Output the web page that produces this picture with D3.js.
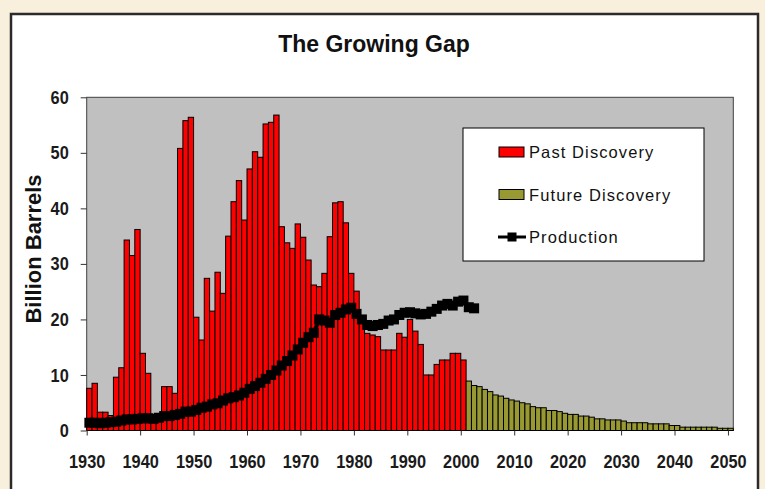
<html>
<head>
  <title>The Growing Gap</title>
  <meta charset="utf-8" />
  <script src="https://cdnjs.cloudflare.com/ajax/libs/d3/7.8.5/d3.min.js"></script>
  <style>
    body { margin: 0; background: #f8efdc; }
    .tick text { font-family: "Liberation Sans", Arial, sans-serif; font-weight: bold; font-size: 19px; fill: #1a1a1a; }
    .tick line { stroke: #333; }
    path.domain { stroke: none; }
  </style>
</head>
<body>
  <svg></svg>
  <script>
    // year categories and values (billion barrels)
    var years = d3.range(1930, 2051)
    var tickYears = [1930, 1940, 1950, 1960, 1970, 1980, 1990, 2000, 2010, 2020, 2030, 2040, 2050]
    var yTicks = [0, 10, 20, 30, 40, 50, 60]

    // 1930 - 2000
    var pastDiscovery = [
      7.6, 8.5, 3.3, 3.3, 2.7, 9.6, 11.3, 34.3, 31.5, 36.2,
      13.9, 10.3, 1.8, 2.2, 7.9, 7.9, 6.7, 50.8, 55.8, 56.4,
      20.4, 16.3, 27.4, 21.5, 28.5, 24.7, 35.0, 41.2, 45.0, 37.9,
      47.1, 50.2, 49.2, 55.2, 55.5, 56.8, 36.7, 33.8, 32.8, 37.2,
      34.8, 30.7, 26.2, 25.9, 28.3, 34.9, 41.0, 41.2, 37.4, 28.3,
      25.1, 19.5, 17.5, 17.2, 16.9, 14.5, 14.5, 14.5, 17.5, 16.8,
      20.0, 17.9, 15.5, 10.0, 10.0, 11.9, 12.7, 12.7, 13.9, 13.9,
      12.7
    ]
    // 2001 - 2050
    var futureDiscovery = [
      8.9, 8.1, 7.9, 7.4, 7.0, 6.4, 6.2, 5.8, 5.5, 5.3,
      5.0, 4.8, 4.3, 4.1, 4.1, 3.6, 3.6, 3.4, 3.1, 2.9,
      2.9, 2.6, 2.6, 2.4, 2.1, 2.1, 1.9, 1.9, 1.9, 1.7,
      1.4, 1.4, 1.4, 1.4, 1.2, 1.2, 1.2, 1.2, 0.9, 0.9,
      0.6, 0.6, 0.6, 0.6, 0.6, 0.6, 0.6, 0.4, 0.4, 0.4
    ]
    // 1930 - 2002
    var production = [
      1.4, 1.4, 1.3, 1.4, 1.5, 1.6, 1.8, 2.0, 2.0, 2.1,
      2.2, 2.2, 2.1, 2.3, 2.6, 2.6, 2.8, 3.0, 3.4, 3.4,
      3.7, 4.1, 4.3, 4.7, 4.9, 5.4, 5.8, 6.0, 6.3, 6.8,
      7.5, 8.0, 8.6, 9.3, 10.0, 10.8, 11.7, 12.5, 13.5, 14.6,
      15.8, 16.8, 17.6, 20.0, 19.8, 19.4, 20.8, 21.2, 21.8, 22.1,
      21.0, 20.0, 19.0, 18.8, 19.0, 19.2, 19.8, 20.0, 20.8, 21.2,
      21.3, 21.1, 20.9, 21.0, 21.4, 21.9, 22.5, 22.8, 22.5, 23.2,
      23.4, 22.2, 22.0
    ]

    var svg = d3.select("svg").attr("width", 765).attr("height", 489)

    // white panel with dark frame
    svg.append("rect")
      .attr("x", 11).attr("y", 14)
      .attr("width", 747).attr("height", 500)
      .style("fill", "#fff")
      .style("stroke", "#2b2b2b")
      .style("stroke-width", 2.5)

    var x = d3.scaleBand().domain(years).range([86.7, 733.3]).paddingInner(0).paddingOuter(0)
    var xTick = d3.scaleLinear().domain([1930, 2051]).range([86.7, 733.3])
    var y = d3.scaleLinear().domain([0, 60]).range([430.5, 97.3])

    svg.append("rect")
      .attr("x", x.range()[0]).attr("y", y(60))
      .attr("width", x.range()[1] - x.range()[0])
      .attr("height", y(0) - y(60))
      .style("fill", "#c0c0c0")
      .style("stroke", "#404040")
      .style("stroke-width", 1)

    var pastData = pastDiscovery.map((v, i) => ({ year: 1930 + i, v: v }))
    var futureData = futureDiscovery.map((v, i) => ({ year: 2001 + i, v: v }))
    var prodData = production.map((v, i) => ({ year: 1930 + i, v: v }))

    function drawBars(data, color, cls) {
      svg.append("g").selectAll("rect." + cls)
        .data(data)
        .enter()
        .append("rect")
          .attr("class", cls)
          .attr("x", d => x(d.year))
          .attr("width", x.bandwidth())
          .attr("y", d => y(d.v))
          .attr("height", d => y(0) - y(d.v))
          .style("fill", color)
          .style("stroke", "#000")
          .style("stroke-width", 1)
    }
    drawBars(pastData, "#ff0000", "past")
    drawBars(futureData, "#999933", "future")

    // production line with square markers
    var line = d3.line()
      .x(d => x(d.year) + x.bandwidth() / 2)
      .y(d => y(d.v))

    svg.append("path")
      .datum(prodData)
      .attr("d", line)
      .style("fill", "none")
      .style("stroke", "#000")
      .style("stroke-width", 4)

    svg.append("g").selectAll("rect.mark")
      .data(prodData)
      .enter()
      .append("rect")
        .attr("class", "mark")
        .attr("x", d => x(d.year) + x.bandwidth() / 2 - 5)
        .attr("y", d => y(d.v) - 5)
        .attr("width", 10).attr("height", 10)
        .style("fill", "#000")

    // axes (labels squeezed sideways to look like a narrow face)
    svg.append("g")
      .attr("transform", "translate(0," + y(0) + ")")
      .call(d3.axisBottom(xTick).tickValues(tickYears).tickFormat(d3.format("d")).tickSize(5).tickPadding(19))
      .selectAll(".tick text")
        .attr("transform", "scale(0.86,1)")

    svg.append("g")
      .attr("transform", "translate(" + x.range()[0] + ",0)")
      .call(d3.axisLeft(y).tickValues(yTicks).tickSize(6).tickPadding(12))
      .selectAll(".tick text")
        .attr("transform", "translate(-2.5,0) scale(0.86,1)")

    // titles
    svg.append("text")
      .attr("x", 374).attr("y", 52)
      .attr("text-anchor", "middle")
      .style("font-family", "Liberation Sans, Arial, sans-serif")
      .style("font-weight", "bold")
      .style("font-size", "23px")
      .style("fill", "#111")
      .text("The Growing Gap")

    svg.append("text")
      .attr("transform", "translate(41,249) rotate(-90)")
      .attr("text-anchor", "middle")
      .style("font-family", "Liberation Sans, Arial, sans-serif")
      .style("font-weight", "bold")
      .style("font-size", "22px")
      .style("fill", "#111")
      .text("Billion Barrels")

    // legend
    var legend = svg.append("g")
    legend.append("rect")
      .attr("x", 463).attr("y", 128)
      .attr("width", 241).attr("height", 133)
      .style("fill", "#fff")
      .style("stroke", "#000")
      .style("stroke-width", 1)

    var legendItems = [
      { label: "Past Discovery", color: "#ff0000", type: "bar" },
      { label: "Future Discovery", color: "#999933", type: "bar" },
      { label: "Production", color: "#000", type: "line" }
    ]

    legendItems.forEach((d, i) => {
      var cy = 152 + i * 42.5
      if (d.type == "bar") {
        legend.append("rect")
          .attr("x", 499).attr("y", cy - 5)
          .attr("width", 25).attr("height", 10)
          .style("fill", d.color)
          .style("stroke", "#000")
      } else {
        legend.append("line")
          .attr("x1", 498).attr("x2", 526)
          .attr("y1", cy).attr("y2", cy)
          .style("stroke", "#000")
          .style("stroke-width", 3)
        legend.append("rect")
          .attr("x", 507.5).attr("y", cy - 4.5)
          .attr("width", 9).attr("height", 9)
          .style("fill", "#000")
      }
      legend.append("text")
        .attr("x", 529).attr("y", cy + 6)
        .style("font-family", "Liberation Sans, Arial, sans-serif")
        .style("font-size", "16.5px")
        .style("letter-spacing", "1.1px")
        .style("fill", "#111")
        .text(d.label)
    })
  </script>
</body>
</html>
